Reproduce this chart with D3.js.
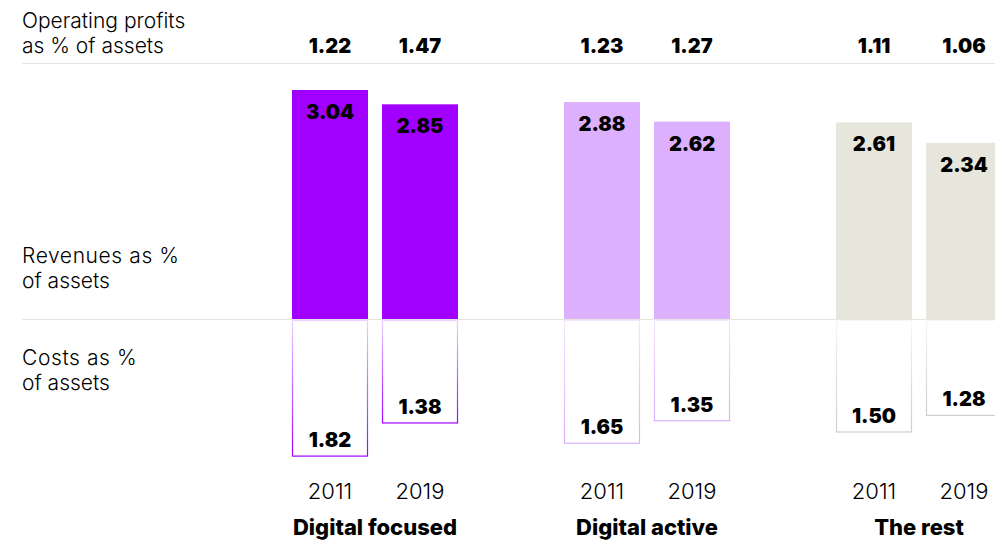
<!DOCTYPE html>
<html><head><meta charset="utf-8">
<script src="https://cdn.jsdelivr.net/npm/d3@7"></script>
<style>
html,body{margin:0;padding:0;background:#fff;}
svg{display:block;font-family:Inter,"Noto Sans",sans-serif;}
</style></head>
<body><svg id="c" width="995" height="541"></svg>
<script>
const groups = ["Digital focused", "Digital active", "The rest"];
const years = ["2011", "2019"];
const revenues = [[3.04, 2.85], [2.88, 2.62], [2.61, 2.34]];
const costs = [[1.82, 1.38], [1.65, 1.35], [1.50, 1.28]];
const profits = [[1.22, 1.47], [1.23, 1.27], [1.11, 1.06]];
const fillColors = ["#a100ff", "#dcb0fd", "#e6e6dc"];
const strokeTop = ["#ecd2ff", "#f4e6ff", "#f7f7f3"];
const strokeBottom = ["#a100ff", "#dcb0fd", "#cfcfc8"];

const svg = d3.select("#c");
const baseY = 319;
const gx = d3.scalePoint().domain(groups).range([375, 919]);
const bx = d3.scaleBand().domain(years).range([-83, 83]).paddingInner(14/90).paddingOuter(0);
const h = d3.scaleLinear().domain([0, 3.04]).range([0, 229]);

const defs = svg.append("defs");
groups.forEach((g, i) => {
  const lg = defs.append("linearGradient").attr("id", "gr" + i)
    .attr("x1", 0).attr("y1", 0).attr("x2", 0).attr("y2", 1);
  lg.append("stop").attr("offset", "0%").attr("stop-color", strokeTop[i]);
  lg.append("stop").attr("offset", "100%").attr("stop-color", strokeBottom[i]);
});

svg.append("line").attr("x1", 22).attr("x2", 995).attr("y1", 63.5).attr("y2", 63.5)
  .attr("stroke", "#e6e6de").attr("stroke-width", 1);
svg.append("line").attr("x1", 22).attr("x2", 995).attr("y1", baseY + 0.5).attr("y2", baseY + 0.5)
  .attr("stroke", "#e6e6de").attr("stroke-width", 1);

const leftLabels = [
  ["Operating profits", 28], ["as % of assets", 53],
  ["Revenues as %", 263], ["of assets", 288],
  ["Costs as %", 365], ["of assets", 390]
];
svg.selectAll("text.left").data(leftLabels).join("text").attr("class", "left")
  .attr("x", 22).attr("y", d => d[1]).text(d => d[0])
  .attr("font-size", 21).attr("font-weight", 300).attr("fill", "#000")
  .attr("letter-spacing", d => d[0].startsWith("Revenues") || d[0].startsWith("Costs") ? 0.6 : 0);

const numStyle = sel => sel.attr("text-anchor", "middle").attr("font-size", 20)
  .attr("font-weight", 900).attr("fill", "#000");

groups.forEach((g, i) => {
  const cg = svg.append("g").attr("transform", `translate(${gx(g)},0)`);
  years.forEach((yr, j) => {
    const x0 = bx(yr), w = bx.bandwidth(), cx = x0 + w / 2;
    const rh = h(revenues[i][j]);
    cg.append("rect").attr("x", x0).attr("y", baseY - rh).attr("width", w).attr("height", rh)
      .attr("fill", fillColors[i]);
    cg.append("text").attr("x", cx).attr("y", baseY - rh + 29).call(numStyle)
      .text(revenues[i][j].toFixed(2));
    const ch = h(costs[i][j]);
    cg.append("rect").attr("x", x0 + 0.5).attr("y", baseY + 1.5).attr("width", w - 1).attr("height", ch - 1.5)
      .attr("fill", "none").attr("stroke", `url(#gr${i})`).attr("stroke-width", 1.2);
    cg.append("text").attr("x", cx).attr("y", baseY + ch - 9).call(numStyle)
      .text(costs[i][j].toFixed(2));
    cg.append("text").attr("x", cx).attr("y", 53).call(numStyle)
      .text(profits[i][j].toFixed(2));
    cg.append("text").attr("x", cx).attr("y", 499).attr("text-anchor", "middle")
      .attr("font-size", 22).attr("font-weight", 300).text(yr);
  });
  cg.append("text").attr("x", 0).attr("y", 535).attr("text-anchor", "middle")
    .attr("font-size", 22).attr("font-weight", 800).text(g);
});
</script></body></html>
